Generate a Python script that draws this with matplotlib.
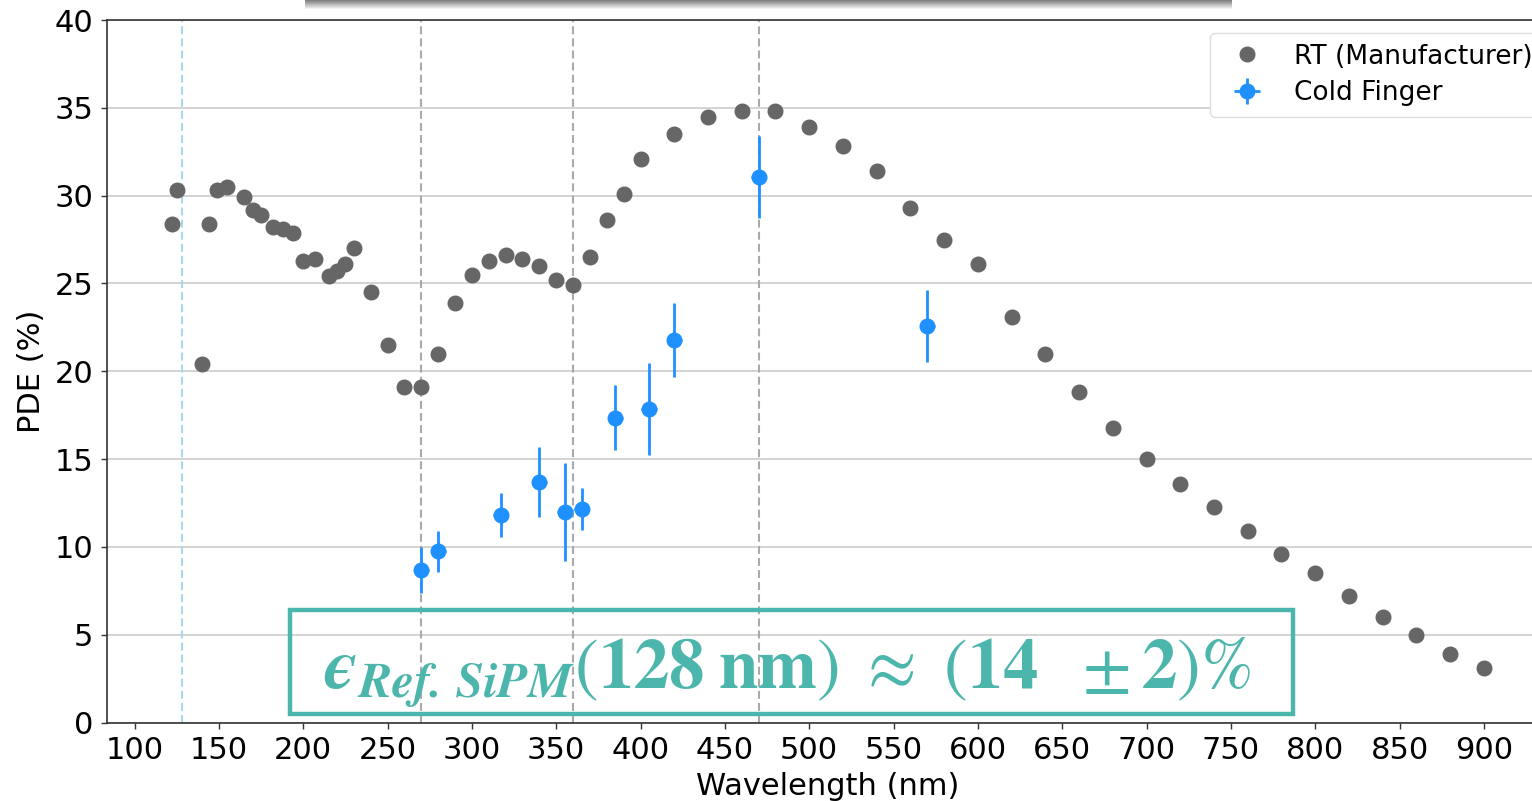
import numpy as np
import matplotlib
matplotlib.use("Agg")
import matplotlib.pyplot as plt
from matplotlib.patches import Rectangle

# ---- data ----
rt_wavelength = [122, 125, 140, 144, 149, 155, 165, 170, 175, 182, 188, 194, 200, 207,
                 215, 220, 225, 230, 240, 250, 260, 270, 280, 290, 300, 310, 320, 330,
                 340, 350, 360, 370, 380, 390, 400, 420, 440, 460, 480, 500, 520, 540,
                 560, 580, 600, 620, 640, 660, 680, 700, 720, 740, 760, 780, 800, 820,
                 840, 860, 880, 900]
rt_pde = [28.4, 30.3, 20.4, 28.4, 30.3, 30.5, 29.9, 29.2, 28.9, 28.2, 28.1, 27.9, 26.3, 26.4,
          25.4, 25.7, 26.1, 27.0, 24.5, 21.5, 19.1, 19.1, 21.0, 23.9, 25.5, 26.3, 26.6, 26.4,
          26.0, 25.2, 24.9, 26.5, 28.6, 30.1, 32.1, 33.5, 34.5, 34.8, 34.8, 33.9, 32.8, 31.4,
          29.3, 27.5, 26.1, 23.1, 21.0, 18.8, 16.8, 15.0, 13.6, 12.3, 10.9, 9.6, 8.5, 7.2,
          6.0, 5.0, 3.9, 3.1]

cf_wavelength = [270, 280, 317, 340, 355, 365, 385, 405, 420, 470, 570]
cf_pde = [8.7, 9.75, 11.8, 13.7, 12.0, 12.15, 17.35, 17.85, 21.8, 31.05, 22.6]
cf_err = [1.3, 1.15, 1.25, 2.0, 2.8, 1.2, 1.85, 2.6, 2.1, 2.35, 2.05]
cf_xerr = 4.5

ref_line = 128
marker_lines = [270, 360, 470]

x_ticks = list(range(100, 901, 50))
y_ticks = list(range(0, 41, 5))

TEAL = "#4DB6AC"

plt.rcParams['mathtext.fontset'] = 'stix'

W, H = 1532, 801
fig = plt.figure(figsize=(W / 100, H / 100), dpi=100)
ax_left, ax_right = 106.7, 1548
ax_top, ax_bot = 20, 722.6
ax = fig.add_axes([ax_left / W, 1 - ax_bot / H, (ax_right - ax_left) / W, (ax_bot - ax_top) / H])

ax.set_xlim(83.5, 938)
ax.set_ylim(0, 40)
ax.set_xticks(x_ticks)
ax.set_yticks(y_ticks)
ax.tick_params(labelsize=22, length=4.5, width=1.0, pad=5, color="#333333")
ax.grid(axis='y', color="#cccccc", linewidth=1.2)
ax.set_axisbelow(True)
for s in ['left', 'bottom', 'top']:
    ax.spines[s].set_color("#333333")
    ax.spines[s].set_linewidth(1.2)
ax.spines['right'].set_visible(False)

ax.axvline(ref_line, color="#a8d8ea", linestyle=(0, (3.8, 2.0)), linewidth=1.5, zorder=1)
for xv in marker_lines:
    ax.axvline(xv, color="#aaaaaa", linestyle=(0, (3.8, 2.0)), linewidth=1.5, zorder=1)

ax.plot(rt_wavelength, rt_pde, 'o', color="#666666", markersize=10.5,
        linestyle='none', label="RT (Manufacturer)", zorder=3)
ax.errorbar(cf_wavelength, cf_pde, yerr=cf_err, xerr=cf_xerr, fmt='o', color="#1E90FF",
            markersize=10.5, elinewidth=2, capsize=0, label="Cold Finger", zorder=4)

ax.set_xlabel("Wavelength (nm)", fontsize=22, labelpad=5)
ax.set_ylabel("PDE (%)", fontsize=22, labelpad=6)

leg = ax.legend(loc='upper left', bbox_to_anchor=(1210 / W, 1 - 33 / H),
                bbox_transform=fig.transFigure, borderaxespad=0, fontsize=19,
                labelspacing=0.4, framealpha=1, edgecolor="#dddddd", fancybox=True)

# annotation box
ax.add_patch(Rectangle((192.2, 0.5), 786.7 - 192.2, 6.4 - 0.5, fill=False,
                       edgecolor=TEAL, linewidth=3.2, zorder=5))
ax.text(487, 2.85,
        r'$\mathbfit{ϵ}_{\mathbfit{Ref.\,SiPM}}(\mathbf{128\;nm})\ \approx\ (\mathbf{14}\ \ \pm \mathbf{2})\%$',
        color=TEAL, fontsize=51, ha='center', va='center', zorder=6)

# partially visible title box shadow at top
sh = fig.add_axes([305 / W, 1 - 10 / H, (1232 - 305) / W, 10 / H])
grad = np.linspace(0.5, 1.0, 10).reshape(-1, 1)
sh.imshow(np.repeat(grad, 50, axis=1), cmap='gray', vmin=0, vmax=1, aspect='auto',
          extent=[0, 1, 0, 1], origin='upper')
sh.axis('off')

fig.savefig("out.png", dpi=100)
